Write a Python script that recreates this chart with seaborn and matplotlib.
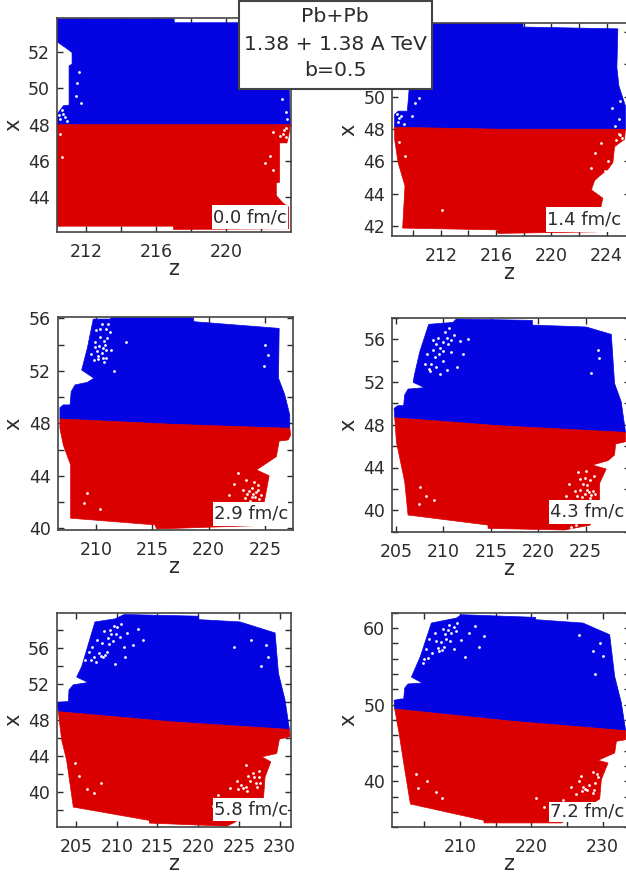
import matplotlib
matplotlib.use('Agg')
import matplotlib.pyplot as plt
import seaborn as sns
from matplotlib.patches import Rectangle
from matplotlib.ticker import MultipleLocator

sns.set_style('white')
plt.rcParams['font.family'] = ['DejaVu Sans']

BLUE = '#0404E2'
RED = '#DA0000'
INK = '#2b2b2b'
W, H = 626, 874

times = ['0.0 fm/c', '1.4 fm/c', '2.9 fm/c', '4.3 fm/c', '5.8 fm/c', '7.2 fm/c']

# outlines of the two halves, (z, x)
blue_0 = [(210.36, 48.0), (210.36, 48.6), (210.7, 49.04), (211.03, 49.08), (211.03, 51.24), (211.2, 51.33),
          (211.2, 51.97), (210.9, 52.19), (210.36, 52.55), (210.36, 53.83), (217.03, 53.83), (217.03, 53.61),
          (223.6, 53.61), (223.6, 49.96), (223.66, 48.0)]
red_0 = [(210.36, 48.0), (223.66, 48.0), (223.6, 47.58), (223.47, 47.0), (223.05, 47.0), (223.05, 44.84),
         (222.86, 44.8), (222.86, 44.1), (223.24, 43.7), (223.56, 43.47), (223.56, 42.28), (217.0, 42.24),
         (217.0, 42.42), (210.36, 42.42)]
blue_1 = [(208.65, 48.1), (208.65, 48.9), (208.9, 49.1), (209.57, 49.1), (209.7, 50.45), (210.0, 54.4),
          (211.45, 54.52), (217.95, 54.56), (217.95, 54.3), (224.82, 54.19), (224.75, 51.79), (224.9, 50.65),
          (225.37, 49.42), (225.37, 47.98), (216.5, 47.98)]
red_1 = [(208.65, 48.1), (216.5, 47.98), (225.37, 47.98), (225.3, 47.36), (224.58, 46.9), (224.46, 45.92),
         (224.1, 45.5), (223.5, 45.1), (223.13, 44.8), (222.9, 44.23), (223.73, 43.72), (223.6, 43.2),
         (223.3, 41.7), (223.3, 41.64), (216.14, 41.54), (216.07, 41.76), (209.23, 41.87), (209.4, 44.48),
         (208.9, 45.92), (208.65, 47.36)]
blue_2 = [(206.8, 48.33), (206.8, 49.19), (207.1, 49.4), (207.7, 49.4), (207.8, 50.41), (208.14, 50.92),
          (209.23, 51.12), (209.82, 51.43), (208.73, 52.06), (209.23, 53.71), (209.76, 55.94), (211.24, 55.94),
          (211.39, 56.05), (218.63, 56.05), (218.69, 55.74), (226.25, 55.23), (226.19, 51.43), (226.75, 50.16),
          (227.19, 48.63), (227.19, 47.62), (216.85, 47.92)]
red_2 = [(206.8, 48.33), (216.85, 47.92), (227.19, 47.62), (227.28, 47.11), (227.05, 46.73), (226.25, 46.65),
         (226.0, 45.46), (224.24, 44.45), (225.36, 44.0), (224.92, 41.98), (224.39, 40.21), (215.38, 39.95),
         (215.23, 40.26), (207.75, 40.77), (207.75, 44.83), (207.1, 46.35), (206.8, 47.62)]
blue_3 = [(204.86, 48.65), (204.79, 49.53), (205.2, 49.78), (205.8, 49.78), (205.9, 50.77), (206.26, 51.33),
          (208.0, 51.46), (206.8, 51.96), (206.93, 52.64), (207.5, 54.82), (208.44, 57.38), (211.0, 57.56),
          (211.36, 57.88), (219.37, 57.75), (219.37, 57.31), (225.06, 57.13), (227.7, 56.44), (228.04, 51.86),
          (228.74, 50.15), (229.2, 47.28), (215.92, 47.9)]
red_3 = [(204.86, 48.65), (215.92, 47.9), (229.2, 47.28), (229.2, 46.41), (228.15, 46.2), (228.04, 45.17),
         (227.34, 44.64), (225.69, 44.23), (227.16, 43.86), (226.46, 42.52), (226.46, 40.96), (225.48, 38.75),
         (225.48, 38.62), (222.77, 38.16), (214.7, 38.31), (214.7, 38.62), (206.26, 39.56), (205.91, 42.67),
         (205.03, 46.41)]
blue_4 = [(202.83, 48.93), (202.7, 49.98), (204.06, 50.06), (204.14, 51.36), (204.67, 51.93), (206.51, 52.19),
          (205.08, 52.79), (205.7, 53.98), (207.33, 58.95), (209.79, 59.29), (210.9, 59.78), (220.02, 59.59),
          (220.02, 59.21), (225.13, 58.95), (229.43, 57.72), (229.84, 53.23), (230.65, 50.24), (231.19, 46.95),
          (216.95, 47.78)]
red_4 = [(202.83, 48.93), (216.95, 47.78), (231.19, 46.95), (231.27, 46.13), (229.96, 45.87), (229.63, 44.26),
         (227.79, 43.89), (228.9, 43.33), (228.2, 41.64), (228.0, 39.21), (224.52, 36.6), (223.5, 36.15),
         (214.0, 36.49), (214.0, 36.79), (204.67, 38.28), (203.85, 43.51), (203.24, 45.76)]
blue_5 = [(200.84, 49.43), (200.75, 50.57), (201.64, 50.74), (202.1, 50.74), (202.24, 52.17), (202.71, 52.7),
          (204.72, 52.83), (203.18, 53.6), (204.44, 56.3), (205.98, 60.65), (209.49, 61.3), (210.19, 61.74),
          (220.61, 61.39), (220.61, 61.09), (227.24, 60.65), (230.98, 59.13), (231.68, 53.7), (232.62, 50.22),
          (233.22, 46.61), (217.43, 47.83)]
red_5 = [(200.84, 49.43), (217.43, 47.83), (233.22, 46.61), (233.22, 45.43), (231.92, 45.22), (231.68, 43.7),
         (229.35, 42.74), (230.75, 42.39), (229.81, 40.22), (229.58, 37.7), (224.21, 34.57), (213.36, 34.57),
         (213.36, 34.91), (203.04, 37.04), (202.1, 42.39), (201.45, 46.3)]

# gaps where the particles thin out
gaps_0 = [(210.5, 48.3), (210.7, 48.6), (210.9, 48.2), (210.6, 48.8), (210.8, 48.45), (210.45, 48.55), (211.5, 50.3),
          (211.7, 49.2), (211.4, 49.6), (211.6, 50.9), (223.2, 49.4), (223.4, 48.7), (223.5, 48.3), (223.3, 47.7),
          (223.1, 47.4), (223.4, 47.8), (223.25, 47.5), (222.7, 47.6), (223.4, 47.3), (222.5, 46.3), (222.7, 45.5),
          (222.2, 45.9), (210.5, 47.5), (210.6, 46.2)]
gaps_1 = [(208.9, 48.4), (209.1, 48.8), (209.3, 48.3), (209.0, 48.65), (208.8, 48.9), (210.1, 49.6), (209.9, 48.8),
          (210.4, 49.9), (224.4, 49.3), (224.9, 48.6), (225.0, 49.7), (224.6, 48.2), (225.0, 47.6), (224.7, 47.3),
          (224.9, 47.7), (225.1, 47.45), (223.6, 47.1), (223.2, 46.5), (224.1, 46.0), (222.9, 45.6), (223.9, 45.4),
          (209.0, 47.2), (209.4, 46.3), (212.1, 43.0)]
gaps_2 = [(209.6, 53.3), (209.9, 54.2), (210.2, 53.1), (210.4, 54.6), (210.6, 53.7), (210.8, 54.0), (210.9, 55.2),
          (210.5, 55.6), (210.2, 52.9), (210.9, 53.0), (211.0, 54.5), (210.0, 55.1), (211.3, 53.6), (210.7, 52.7),
          (210.3, 53.9), (210.1, 53.5), (210.7, 54.3), (210.5, 53.35), (209.8, 52.85), (210.9, 53.55), (211.1, 55.6),
          (209.9, 53.8), (211.2, 54.95), (210.35, 55.2), (210.65, 52.95), (211.6, 52.0), (212.7, 54.2), (225.0, 54.0),
          (225.3, 53.2), (224.9, 52.4), (223.4, 42.6), (223.8, 43.1), (224.1, 42.4), (224.4, 42.9), (223.7, 42.1),
          (224.0, 43.5), (224.5, 42.2), (223.0, 42.9), (223.3, 43.7), (223.9, 42.6), (224.2, 42.75), (223.55, 42.85),
          (224.0, 41.9), (223.8, 42.35), (224.35, 43.3), (223.2, 42.3), (224.65, 42.55), (224.3, 41.75), (222.6, 44.2),
          (222.2, 43.4), (221.8, 42.5), (209.2, 42.7), (208.9, 41.9), (210.4, 41.5), (223.2, 41.3)]
gaps_3 = [(208.0, 53.7), (208.3, 54.6), (208.6, 53.0), (208.9, 55.9), (209.1, 54.3), (209.4, 56.1), (209.6, 55.2),
          (209.9, 54.0), (210.2, 56.7), (210.5, 55.5), (210.8, 54.8), (211.1, 56.4), (210.4, 53.1), (209.6, 52.7),
          (209.2, 55.5), (209.55, 54.65), (209.9, 55.7), (210.0, 54.9), (210.35, 56.1), (210.6, 57.0), (208.7, 53.65),
          (209.25, 53.4), (208.45, 53.25), (208.9, 54.95), (210.75, 55.95), (211.7, 55.8), (212.1, 54.6), (212.6, 56.0),
          (211.4, 53.4), (226.3, 55.0), (226.4, 54.2), (225.6, 52.8), (225.0, 43.7), (225.5, 42.8), (225.9, 43.2),
          (225.1, 41.9), (225.6, 41.4), (224.4, 41.9), (224.7, 42.5), (224.1, 41.3), (223.6, 40.7), (224.2, 43.6),
          (224.9, 41.5), (225.3, 41.7), (224.6, 41.25), (225.15, 42.35), (224.95, 43.05), (225.8, 41.85), (225.45, 41.15),
          (223.9, 41.85), (224.35, 42.9), (223.2, 42.5), (222.9, 41.3), (226.0, 41.5), (207.5, 42.2), (208.2, 41.3),
          (207.4, 40.6), (209.0, 41.0), (223.4, 38.4), (224.0, 38.6)]
gaps_4 = [(206.1, 54.7), (206.6, 55.6), (207.0, 56.2), (207.4, 54.5), (207.8, 55.5), (208.2, 56.6), (208.5, 55.3),
          (208.9, 57.2), (209.2, 58.0), (209.6, 56.8), (210.0, 58.4), (210.4, 57.3), (210.9, 56.1), (211.3, 57.7),
          (208.35, 55.05), (208.8, 55.6), (208.05, 55.2), (209.3, 57.55), (209.7, 58.55), (209.05, 56.5), (207.6, 56.95),
          (208.45, 57.95), (207.15, 55.0), (206.85, 54.75), (209.95, 57.65), (210.5, 58.75), (212.0, 56.4), (212.6, 58.2),
          (213.2, 56.9), (211.0, 55.0), (209.8, 54.3), (228.3, 56.4), (228.6, 55.0), (227.7, 54.0), (226.5, 56.9),
          (224.4, 56.2), (225.9, 43.0), (227.4, 42.3), (226.8, 41.6), (225.5, 40.4), (226.0, 40.1), (224.7, 41.2),
          (225.2, 40.75), (225.85, 40.55), (226.35, 41.2), (226.7, 42.1), (227.1, 41.0), (226.1, 41.75), (224.9, 40.35),
          (227.5, 41.6), (223.9, 40.4), (227.2, 40.5), (227.6, 41.0), (222.4, 39.6), (221.8, 38.4), (204.9, 43.2),
          (205.4, 41.8), (206.3, 40.3), (207.2, 39.9), (208.1, 41.0)]
gaps_5 = [(204.8, 55.4), (205.2, 57.2), (205.7, 58.6), (206.1, 56.7), (206.5, 59.3), (206.9, 57.4), (207.3, 58.2),
          (207.6, 59.9), (208.0, 58.6), (208.4, 60.4), (208.8, 59.3), (209.2, 57.2), (209.6, 60.7), (210.2, 58.4),
          (207.05, 56.95), (207.4, 57.15), (206.6, 58.35), (207.85, 59.2), (208.25, 59.75), (208.55, 58.35), (209.15, 60.15),
          (209.45, 59.65), (205.5, 56.1), (205.0, 56.0), (207.7, 57.55), (210.7, 56.2), (211.2, 59.4), (212.1, 60.2),
          (212.7, 57.5), (213.4, 58.9), (230.0, 56.4), (229.6, 58.1), (228.6, 57.0), (228.9, 54.0), (226.7, 59.1),
          (228.6, 41.2), (229.3, 40.6), (227.2, 39.3), (227.8, 38.9), (228.6, 38.5), (226.3, 38.4), (225.6, 39.2),
          (227.5, 39.05), (228.15, 39.5), (228.95, 39.8), (229.15, 40.95), (228.85, 38.85), (227.05, 38.7), (226.65, 40.0),
          (227.0, 40.7), (224.4, 37.6), (221.8, 36.7), (220.6, 37.8), (203.8, 40.9), (204.1, 39.1), (205.4, 40.1),
          (206.6, 38.6), (207.4, 37.8)]

# px: left, right, top, bottom
boxes = [(57, 291, 18, 232), (392.3, 630, 22.7, 236), (58, 292.7, 316.7, 530),
         (392.3, 630, 317.7, 531.7), (56.7, 291.3, 612.7, 827.3), (392.3, 630, 612.7, 827.3)]
zlims = [(210.34, 223.7), (208.48, 225.7), (206.63, 227.45), (204.6, 229.67), (202.63, 231.42), (200.5, 233.83)]
xlims = [(42.1, 53.87), (41.38, 54.57), (39.87, 56.12), (38.0, 58.0), (36.02, 59.98), (34.0, 62.0)]
# label step, tick step
zsteps = [(4, 2), (4, 2), (5, 5), (5, 5), (5, 5), (10, 5)]
xsteps = [(2, 2), (2, 2), (4, 2), (4, 2), (4, 2), (10, 2)]
tags = [(212, 288, 205, 229), (546, 630, 207, 232), (213, 288, 502, 526),
        (549, 630, 500, 524), (213, 288, 798, 821), (549, 630, 802, 822)]
zname_px = [174, 509, 174, 509, 174, 509]
xname_px = [13, 348, 13, 348, 13, 348]

blues = [blue_0, blue_1, blue_2, blue_3, blue_4, blue_5]
reds = [red_0, red_1, red_2, red_3, red_4, red_5]
gaps = [gaps_0, gaps_1, gaps_2, gaps_3, gaps_4, gaps_5]

fig = plt.figure(figsize=(W / 100, H / 100), dpi=100)

for i in range(6):
    l, r, t, b = boxes[i]
    ax = fig.add_axes([l / W, 1 - b / H, (r - l) / W, (b - t) / H])
    ax.fill(*zip(*blues[i]), color=BLUE, lw=0.5)
    ax.fill(*zip(*reds[i]), color=RED, lw=0.5)
    sns.scatterplot(x=[p[0] for p in gaps[i]], y=[p[1] for p in gaps[i]], color='white',
                    s=4, linewidth=0, ax=ax, zorder=3)
    ax.set_xlim(zlims[i])
    ax.set_ylim(xlims[i])
    ax.xaxis.set_major_locator(MultipleLocator(zsteps[i][0]))
    ax.xaxis.set_minor_locator(MultipleLocator(zsteps[i][1]))
    ax.yaxis.set_major_locator(MultipleLocator(xsteps[i][0]))
    ax.yaxis.set_minor_locator(MultipleLocator(xsteps[i][1]))
    ax.tick_params(which='both', direction='in', top=True, right=True, bottom=True, left=True,
                   length=4, width=1, color=INK, labelcolor=INK, labelsize=12.5)
    ax.tick_params(axis='x', which='major', pad=8)
    ax.tick_params(axis='y', which='major', pad=5)
    for s in ax.spines.values():
        s.set_color('#444444')
        s.set_linewidth(1.2)
    ax.set_xlabel('z', fontsize=15, color=INK, va='center')
    ax.set_ylabel('x', fontsize=15, color=INK, va='center')
    ax.xaxis.set_label_coords((zname_px[i] - l) / (r - l), -37 / (b - t))
    ax.yaxis.set_label_coords((xname_px[i] - l) / (r - l), 0.5)

    # 52 and 54 of the second panel are behind the title box
    if i == 1:
        ax.set_yticks([42, 44, 46, 48, 50])

    tl, tr, tt, tb = tags[i]
    fig.add_artist(Rectangle((tl / W, 1 - tb / H), (tr - tl) / W, (tb - tt) / H, transform=fig.transFigure,
                             fc='white', ec='none', zorder=5))
    fig.text((tl + 1) / W, 1 - (tt + tb) / 2 / H, times[i], fontsize=13, color=INK, va='center', zorder=6)

# title box sits on top of the first row
fig.add_artist(Rectangle((238.5 / W, 1 - 89 / H), 193.5 / W, 88 / H, transform=fig.transFigure,
                         fc='white', ec='#444444', lw=1.5, zorder=7))
for y, s in zip([17, 44, 71], ['Pb+Pb', '1.38 + 1.38 A TeV', 'b=0.5']):
    fig.text(335 / W, 1 - y / H, s, fontsize=14.7, color=INK, ha='center', va='center', zorder=8)

fig.savefig('out.png', dpi=100)
